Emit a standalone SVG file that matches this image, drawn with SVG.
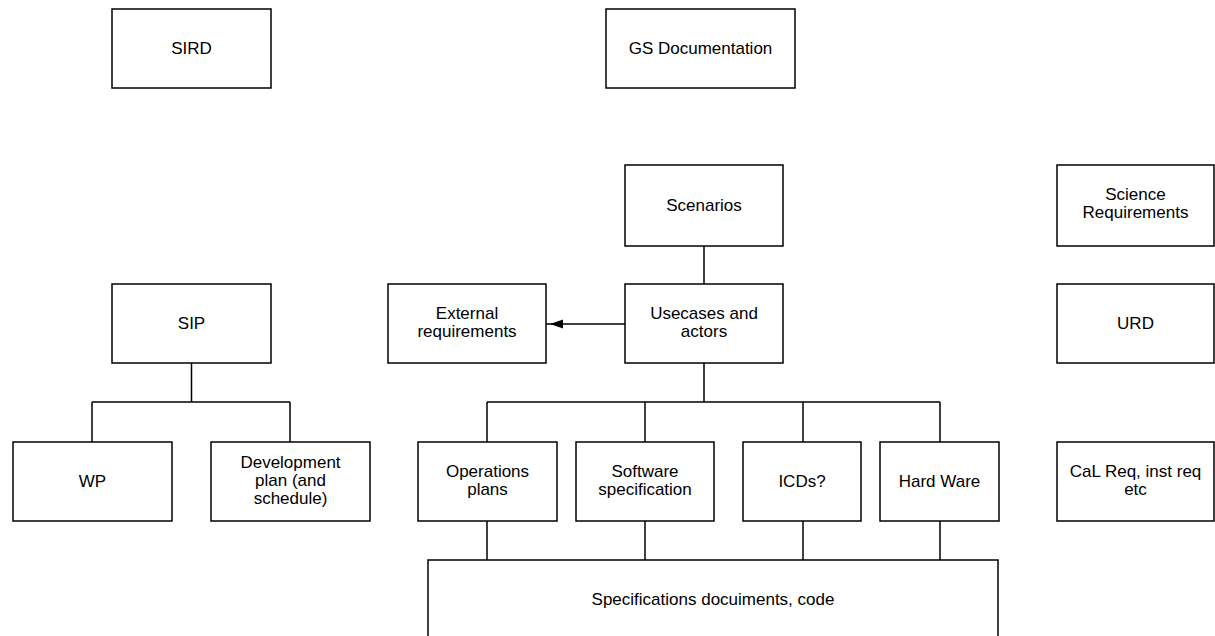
<svg xmlns="http://www.w3.org/2000/svg" width="1215" height="636" viewBox="0 0 1215 636">
<style>
.box{fill:#fff;stroke:#000;stroke-width:1.5}
.t{font-family:"Liberation Sans",Arial,sans-serif;font-size:17px;fill:#000;text-anchor:middle}
.ln{fill:none;stroke:#000;stroke-width:1.5}
</style>
<rect width="1215" height="636" fill="#fff"/>
<g id="connectors">
<path class="ln" d="M704,246 V284"/>
<path class="ln" d="M704,363 V402 M487,402 H940 M487,402 V442 M645,402 V442 M803,402 V442 M940,402 V442"/>
<path class="ln" d="M487,521 V560 M645,521 V560 M803,521 V560 M940,521 V560"/>
<path class="ln" d="M191.5,363 V402 M92,402 H290 M92,402 V442 M290,402 V442"/>
<path class="ln" d="M625,324 H546"/>
<polygon points="550,324 563,319.5 563,328.5" fill="#000"/>
</g>
<g id="sird"><rect class="box" x="112" y="9" width="159" height="79"/><text class="t" x="191.5" y="54">SIRD</text></g>
<g id="gsdoc"><rect class="box" x="606" y="9" width="189" height="79"/><text class="t" x="700.5" y="54">GS Documentation</text></g>
<g id="scenarios"><rect class="box" x="625" y="165" width="158" height="81"/><text class="t" x="704" y="211">Scenarios</text></g>
<g id="sciencereq"><rect class="box" x="1057" y="165" width="157" height="81"/><text class="t" x="1135.5" y="200">Science</text><text class="t" x="1135.5" y="218">Requirements</text></g>
<g id="sip"><rect class="box" x="112" y="284" width="159" height="79"/><text class="t" x="191.5" y="329">SIP</text></g>
<g id="extreq"><rect class="box" x="388" y="284" width="158" height="79"/><text class="t" x="467" y="319">External</text><text class="t" x="467" y="337">requirements</text></g>
<g id="usecases"><rect class="box" x="625" y="284" width="158" height="79"/><text class="t" x="704" y="319">Usecases and</text><text class="t" x="704" y="337">actors</text></g>
<g id="urd"><rect class="box" x="1057" y="284" width="157" height="79"/><text class="t" x="1135.5" y="329">URD</text></g>
<g id="wp"><rect class="box" x="13" y="442" width="159" height="79"/><text class="t" x="92.5" y="487">WP</text></g>
<g id="devplan"><rect class="box" x="211" y="442" width="159" height="79"/><text class="t" x="290.5" y="468">Development</text><text class="t" x="290.5" y="486">plan (and</text><text class="t" x="290.5" y="504">schedule)</text></g>
<g id="opsplans"><rect class="box" x="418" y="442" width="139" height="79"/><text class="t" x="487.5" y="477">Operations</text><text class="t" x="487.5" y="495">plans</text></g>
<g id="swspec"><rect class="box" x="576" y="442" width="138" height="79"/><text class="t" x="645" y="477">Software</text><text class="t" x="645" y="495">specification</text></g>
<g id="icds"><rect class="box" x="743" y="442" width="118" height="79"/><text class="t" x="802" y="487">ICDs?</text></g>
<g id="hardware"><rect class="box" x="880" y="442" width="119" height="79"/><text class="t" x="939.5" y="487">Hard Ware</text></g>
<g id="calreq"><rect class="box" x="1057" y="442" width="157" height="79"/><text class="t" x="1135.5" y="477">CaL Req, inst req</text><text class="t" x="1135.5" y="495">etc</text></g>
<g id="specdocs"><rect class="box" x="428" y="560" width="570" height="90"/><text class="t" x="713" y="605">Specifications docuiments, code</text></g>
</svg>
